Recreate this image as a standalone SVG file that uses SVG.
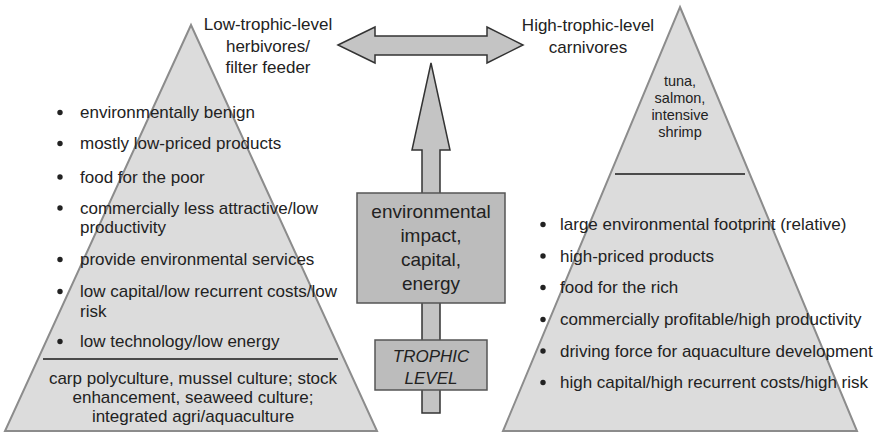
<svg xmlns="http://www.w3.org/2000/svg" width="881" height="434" viewBox="0 0 881 434">
<style>
.pyr{fill:#dcdcdc;stroke:#8c8c8c;stroke-width:2;stroke-linejoin:miter}
.div{stroke:#1a1a1a;stroke-width:1.6}
.arrow{fill:#c4c4c4;stroke:#333;stroke-width:1.5;stroke-linejoin:miter}
.box{fill:#bcbcbc;stroke:#555;stroke-width:1.5}
text{font-family:"Liberation Sans",Arial,sans-serif;font-size:17px;fill:#222}
.c{text-anchor:middle}
.big{font-size:19px}
.it{font-style:italic}
.sm{font-size:14.5px}
.b{fill:#222}
</style>
<defs>
<circle id="bul" r="2.7" class="b"/>
</defs>
<rect width="881" height="434" fill="#fff"/>

<g id="left-pyramid">
<polygon class="pyr" points="191,25 377,431 5,431"/>
<line class="div" x1="43" y1="359" x2="338" y2="359"/>
<g id="left-bullets">
<use href="#bul" x="60" y="112.5"/>
<use href="#bul" x="60" y="143.5"/>
<use href="#bul" x="60" y="177"/>
<use href="#bul" x="60" y="208"/>
<use href="#bul" x="60" y="259.5"/>
<use href="#bul" x="60" y="291.5"/>
<use href="#bul" x="60" y="341.5"/>
</g>
<text x="80" y="118">environmentally benign</text>
<text x="80" y="149">mostly low-priced products</text>
<text x="80" y="182.5">food for the poor</text>
<text x="80" y="213.5">commercially less attractive/low</text>
<text x="80" y="233">productivity</text>
<text x="80" y="265">provide environmental services</text>
<text x="80" y="297">low capital/low recurrent costs/low</text>
<text x="80" y="317">risk</text>
<text x="80" y="347">low technology/low energy</text>
<text class="c" x="193" y="384">carp polyculture, mussel culture; stock</text>
<text class="c" x="193" y="403">enhancement, seaweed culture;</text>
<text class="c" x="193" y="422">integrated agri/aquaculture</text>
</g>

<g id="right-pyramid">
<polygon class="pyr" points="680,7 857,431 503,431"/>
<line class="div" x1="615" y1="174" x2="745" y2="174"/>
<text class="c sm" x="680" y="86">tuna,</text>
<text class="c sm" x="680" y="103">salmon,</text>
<text class="c sm" x="680" y="120">intensive</text>
<text class="c sm" x="680" y="137">shrimp</text>
<g id="right-bullets">
<use href="#bul" x="543" y="224.5"/>
<use href="#bul" x="543" y="256"/>
<use href="#bul" x="543" y="287.5"/>
<use href="#bul" x="543" y="319.5"/>
<use href="#bul" x="543" y="351"/>
<use href="#bul" x="543" y="382.5"/>
</g>
<text x="560" y="230">large environmental footprint (relative)</text>
<text x="560" y="261.5">high-priced products</text>
<text x="560" y="293">food for the rich</text>
<text x="560" y="325">commercially profitable/high productivity</text>
<text x="560" y="356.5">driving force for aquaculture development</text>
<text x="560" y="388">high capital/high recurrent costs/high risk</text>
</g>

<g id="labels">
<text class="c" x="268" y="30">Low-trophic-level</text>
<text class="c" x="268" y="52">herbivores/</text>
<text class="c" x="268" y="73">filter feeder</text>
<text class="c" x="588" y="31">High-trophic-level</text>
<text class="c" x="588" y="53">carnivores</text>
</g>

<g id="connectors">
<polygon class="arrow" points="338,45 375,27 375,36 487,36 487,27 523,45 487,63 487,55 375,55 375,63"/>
<polygon class="arrow" points="431,63 450,150 440,150 440,413 422,413 422,150 412,150"/>
</g>

<g id="box-impact">
<rect class="box" x="357" y="193" width="148" height="110"/>
<text class="c big" x="431" y="218">environmental</text>
<text class="c big" x="431" y="242">impact,</text>
<text class="c big" x="431" y="266">capital,</text>
<text class="c big" x="431" y="290">energy</text>
</g>

<g id="box-trophic">
<rect class="box" x="375" y="340" width="112" height="50"/>
<text class="c it" x="431" y="362">TROPHIC</text>
<text class="c it" x="431" y="384">LEVEL</text>
</g>
</svg>
